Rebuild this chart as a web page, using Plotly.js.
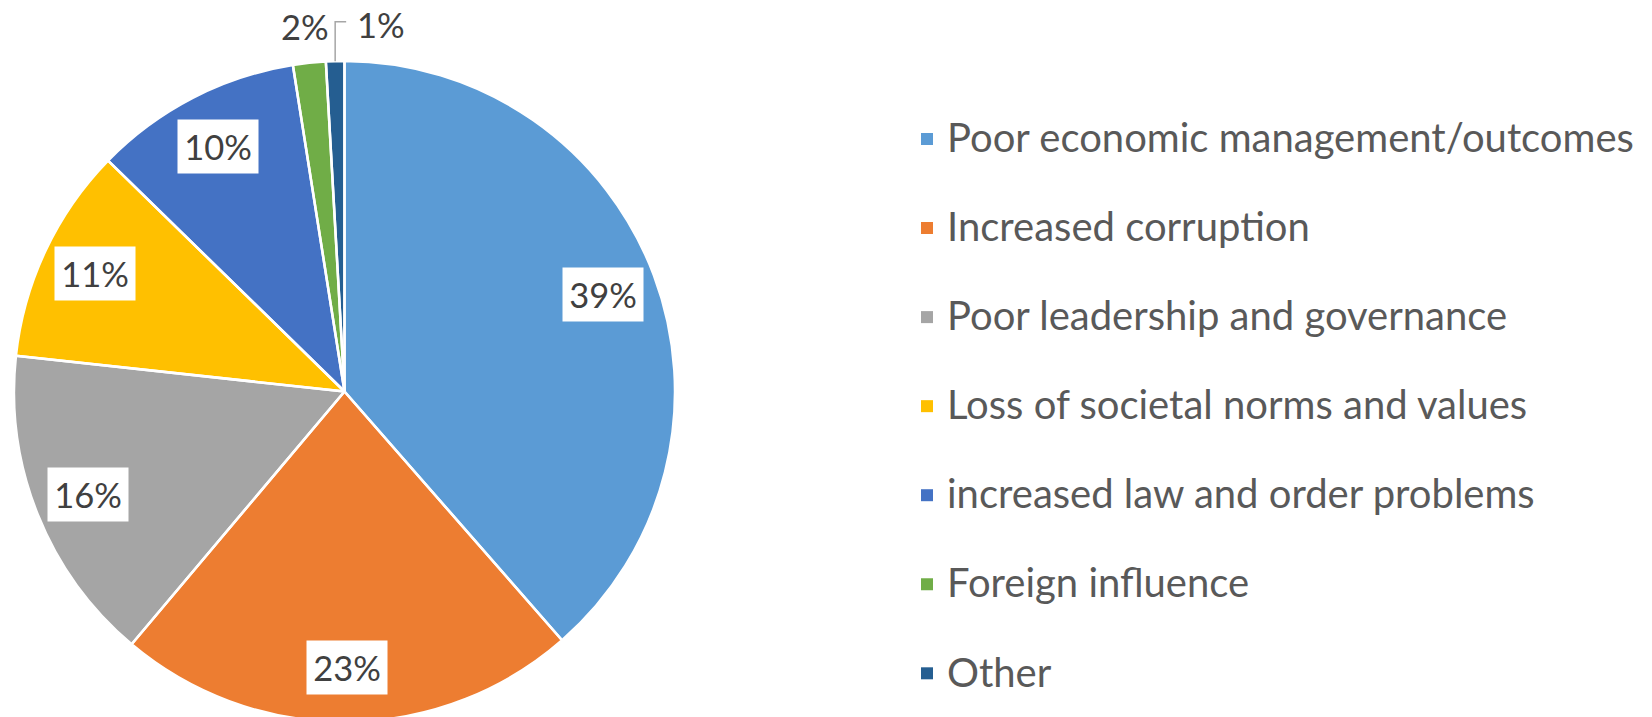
<!DOCTYPE html>
<html>
<head>
<meta charset="utf-8">
<script src="https://cdn.plot.ly/plotly-3.0.1.min.js"></script>
<style>html,body{margin:0;padding:0;overflow:hidden;background:#fff}</style>
</head>
<body>
<div id="chart"></div>
<script>
// ---- data ----
const categories = [
  'Poor economic management/outcomes',
  'Increased corruption',
  'Poor leadership and governance',
  'Loss of societal norms and values',
  'increased law and order problems',
  'Foreign influence',
  'Other'
];
const values = [38.6, 22.6, 15.6, 10.6, 10.2, 1.6, 0.9];
const colors = ['#5B9BD5', '#ED7D31', '#A5A5A5', '#FFC000', '#4472C4', '#70AD47', '#255E91'];

// ---- layout constants (pixels) ----
const W = 1652, H = 722;
const pieLeft = 14, pieRight = 675, pieTop = 61;
const R = (pieRight - pieLeft) / 2;
const cx = (pieLeft + pieRight) / 2;
const cy = pieTop + R;
const px2x = p => p / W;
const py2y = p => (H - p) / H;

// legend: large legend font sets the row pitch, the visible text is 40px,
// raised with <sup> so that it is centred on its swatch
const legendLabels = categories.map(c =>
  '<span style="font-size:30px"><sup><span style="font-size:40px">' + c + '</span></sup></span>');

const total = values.reduce((a, b) => a + b, 0);

const pieBase = {
  type: 'pie',
  labels: legendLabels,
  values: values,
  sort: false,
  direction: 'clockwise',
  rotation: 0,
  domain: {x: [px2x(pieLeft), px2x(pieRight)], y: [py2y(H), py2y(pieTop)]},
  textinfo: 'none',
  hoverinfo: 'none'
};

const traces = [
  Object.assign({}, pieBase, {
    marker: {colors: colors, line: {width: 0}},
    showlegend: true
  }),
  Object.assign({}, pieBase, {
    marker: {colors: colors.map(() => 'rgba(0,0,0,0)'), line: {color: '#FFFFFF', width: 2.5}},
    showlegend: false
  })
];

// ---- data labels, positioned from slice angles ----
const annotations = [];
const shapes = [];
let cum = 0;
values.forEach((v, i) => {
  const pct = v / total * 100;
  const theta = 2 * Math.PI * (cum + v / 2) / total;
  cum += v;
  const txt = Math.round(pct) + '%';
  const lblFont = {family: 'Lato, sans-serif', size: 34.5, color: '#404040'};
  if (pct >= 5) {
    const rf = 0.835;
    annotations.push({
      xref: 'paper', yref: 'paper',
      x: px2x(cx + rf * R * Math.sin(theta)),
      y: py2y(cy - rf * R * Math.cos(theta)),
      text: txt, showarrow: false, font: lblFont,
      bgcolor: '#FFFFFF', width: 68, height: 41, borderpad: 6,
      xanchor: 'center', yanchor: 'middle'
    });
  } else {
    const rf = 1.11;
    const lx = cx + rf * R * Math.sin(theta);
    const ly = cy - rf * R * Math.cos(theta);
    if (i === values.length - 1) {
      const ex = cx + R * Math.sin(theta);
      const ey = cy - R * Math.cos(theta);
      const lineY = ly - 3;
      shapes.push({
        type: 'path', xref: 'paper', yref: 'paper',
        path: 'M ' + px2x(ex) + ' ' + py2y(ey) + ' L ' + px2x(ex) + ' ' + py2y(lineY) +
              ' L ' + px2x(ex + 11) + ' ' + py2y(lineY),
        line: {color: '#A6A6A6', width: 1.5}
      });
      annotations.push({
        xref: 'paper', yref: 'paper',
        x: px2x(ex + 20), y: py2y(ly),
        text: txt, showarrow: false, font: lblFont,
        xanchor: 'left', yanchor: 'middle'
      });
    } else {
      annotations.push({
        xref: 'paper', yref: 'paper',
        x: px2x(lx), y: py2y(ly),
        text: txt, showarrow: false, font: lblFont,
        xanchor: 'center', yanchor: 'middle'
      });
    }
  }
});

const legendFs = 66.19;
const layout = {
  width: W, height: H,
  margin: {l: 0, r: 0, t: 0, b: 0, autoexpand: false},
  paper_bgcolor: '#FFFFFF',
  showlegend: true,
  legend: {
    x: 907 / W, xanchor: 'left',
    y: py2y(89.5), yanchor: 'top',
    font: {family: 'Lato, sans-serif', size: legendFs, color: '#595959'},
    bgcolor: 'rgba(0,0,0,0)',
    traceorder: 'normal'
  },
  annotations: annotations,
  shapes: shapes
};

Plotly.newPlot('chart', traces, layout, {displayModeBar: false, staticPlot: true});
</script>
</body>
</html>
